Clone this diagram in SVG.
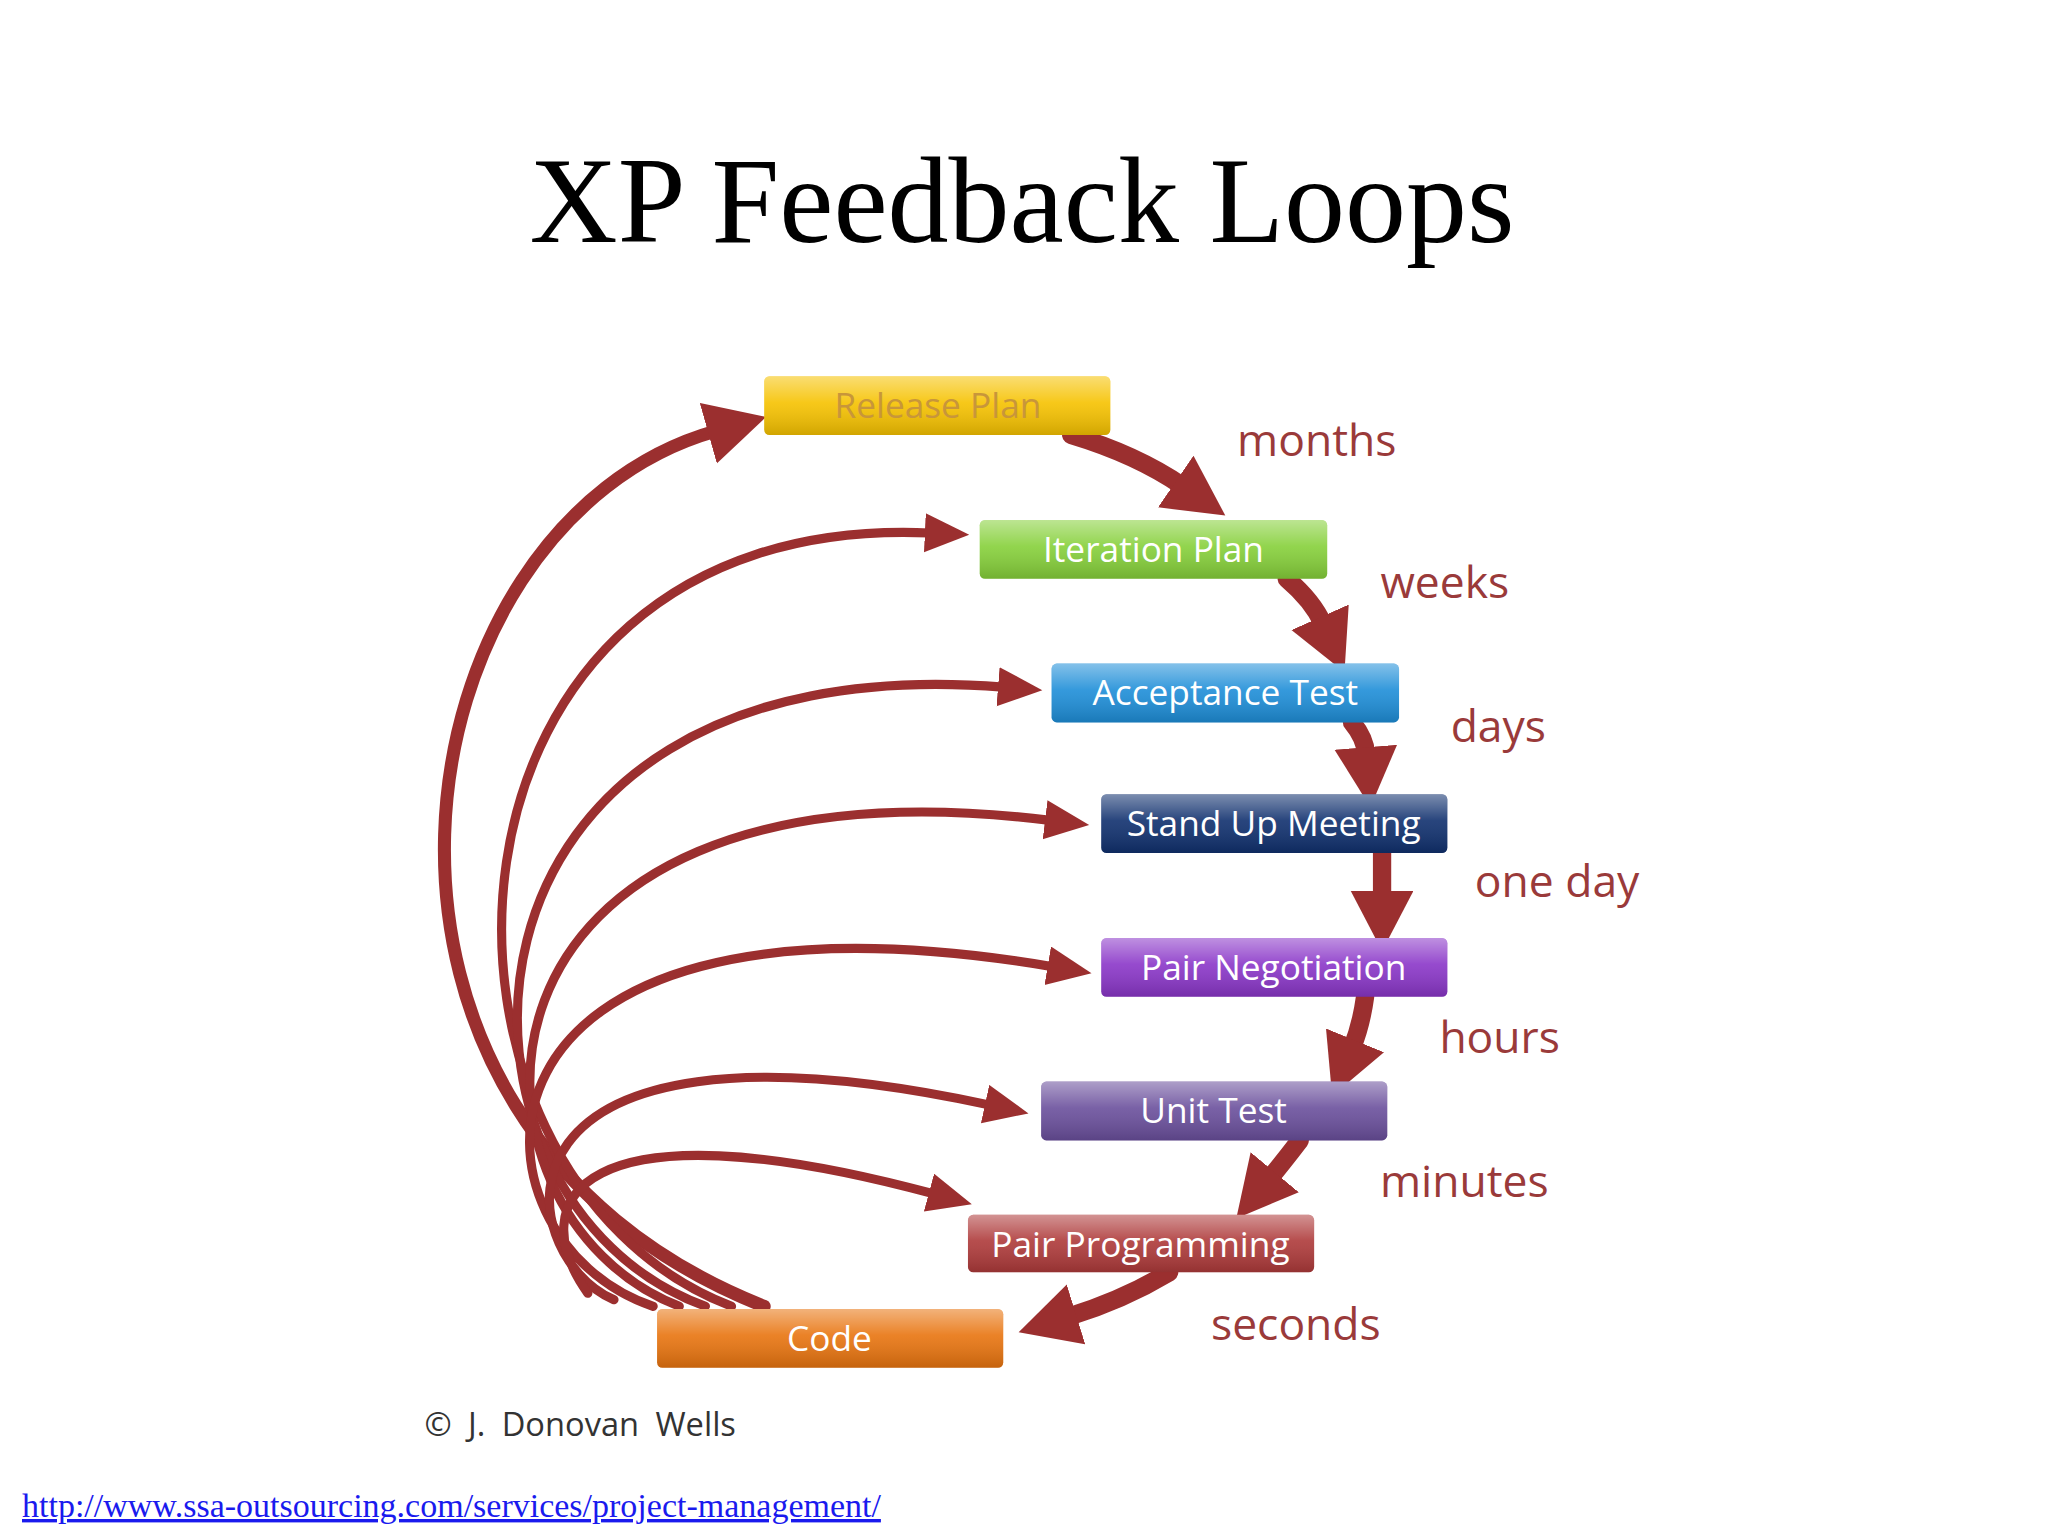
<svg xmlns="http://www.w3.org/2000/svg" width="2048" height="1536" viewBox="0 0 2048 1536">
<style>
.box{stroke:none}
.bt{font-family:"Open Sans","DejaVu Sans",sans-serif;font-size:27px;fill:#fff;text-anchor:middle}
.tl{font-family:"Open Sans","DejaVu Sans",sans-serif;font-size:34px;fill:#9a3a3a;text-anchor:middle}
.fb{fill:none;stroke:#9b2f2f;stroke-linecap:round}
</style>
<defs>
<marker id="ah" markerUnits="userSpaceOnUse" markerWidth="40" markerHeight="40" refX="4" refY="15" orient="auto"><path d="M0,0 L34,15 L0,30 Z" fill="#9b2f2f"/></marker>
<marker id="ahb" markerUnits="userSpaceOnUse" markerWidth="60" markerHeight="60" refX="6" refY="24" orient="auto"><path d="M0,0 L46,24 L0,48 Z" fill="#9b2f2f"/></marker>
<linearGradient id="gl" x1="0" y1="0" x2="0" y2="1"><stop offset="0" stop-color="#fff" stop-opacity="0.45"/><stop offset="0.45" stop-color="#fff" stop-opacity="0.1"/><stop offset="1" stop-color="#000" stop-opacity="0.15"/></linearGradient>
</defs>
<rect width="2048" height="1536" fill="#fff"/>
<text x="1022" y="242" font-family="Liberation Serif,serif" font-size="122" text-anchor="middle" fill="#000">XP Feedback Loops</text>
<g transform="scale(1.3063)">
<g id="connectors">
<path class="fb" stroke-width="10" marker-end="url(#ahb)" d="M585 1000 C230 860 300 400 548 330"/>
<path class="fb" stroke-width="7" marker-end="url(#ah)" d="M560 1000 C300 900 310 390 712 408"/>
<path class="fb" stroke-width="7" marker-end="url(#ah)" d="M540 1000 C320 920 320 490 768 526"/>
<path class="fb" stroke-width="7" marker-end="url(#ah)" d="M520 1000 C340 930 330 570 804 628"/>
<path class="fb" stroke-width="7" marker-end="url(#ah)" d="M500 1000 C350 950 330 660 806 740"/>
<path class="fb" stroke-width="7" marker-end="url(#ah)" d="M470 995 C390 960 360 760 758 846"/>
<path class="fb" stroke-width="7" marker-end="url(#ah)" d="M450 990 C400 920 440 840 715 914"/>
<path class="fb" stroke-width="14" marker-end="url(#ahb)" d="M820 333 Q870 348 905 372"/>
<path class="fb" stroke-width="14" marker-end="url(#ahb)" d="M985 443 Q1005 460 1013 478"/>
<path class="fb" stroke-width="14" marker-end="url(#ahb)" d="M1035 553 Q1045 565 1046 578"/>
<path class="fb" stroke-width="14" marker-end="url(#ahb)" d="M1058 653 L1058 688"/>
<path class="fb" stroke-width="14" marker-end="url(#ahb)" d="M1045 763 Q1042 785 1035 802"/>
<path class="fb" stroke-width="14" marker-end="url(#ahb)" d="M995 873 Q982 890 972 902"/>
<path class="fb" stroke-width="14" marker-end="url(#ahb)" d="M895 974 Q860 995 818 1008"/>
</g>
<g id="release"><rect class="box" x="585" y="288" width="265" height="45" rx="4" fill="#f6c200"/><rect x="585" y="288" width="265" height="45" rx="4" fill="url(#gl)"/><text class="bt" x="718" y="320" style="fill:#c8963a">Release Plan</text></g>
<g id="iteration"><rect class="box" x="750" y="398" width="266" height="45" rx="4" fill="#86d03a"/><rect x="750" y="398" width="266" height="45" rx="4" fill="url(#gl)"/><text class="bt" x="883" y="430">Iteration Plan</text></g>
<g id="acceptance"><rect class="box" x="805" y="508" width="266" height="45" rx="4" fill="#1e8ed8"/><rect x="805" y="508" width="266" height="45" rx="4" fill="url(#gl)"/><text class="bt" x="938" y="540">Acceptance Test</text></g>
<g id="standup"><rect class="box" x="843" y="608" width="265" height="45" rx="4" fill="#10306e"/><rect x="843" y="608" width="265" height="45" rx="4" fill="url(#gl)"/><text class="bt" x="975" y="640">Stand Up Meeting</text></g>
<g id="pairneg"><rect class="box" x="843" y="718" width="265" height="45" rx="4" fill="#8a36c8"/><rect x="843" y="718" width="265" height="45" rx="4" fill="url(#gl)"/><text class="bt" x="975" y="750">Pair Negotiation</text></g>
<g id="unittest"><rect class="box" x="797" y="828" width="265" height="45" rx="4" fill="#6a4f9c"/><rect x="797" y="828" width="265" height="45" rx="4" fill="url(#gl)"/><text class="bt" x="929" y="860">Unit Test</text></g>
<g id="pairprog"><rect class="box" x="741" y="930" width="265" height="44" rx="4" fill="#ae3a3a"/><rect x="741" y="930" width="265" height="44" rx="4" fill="url(#gl)"/><text class="bt" x="873" y="962">Pair Programming</text></g>
<g id="code"><rect class="box" x="503" y="1002" width="265" height="45" rx="4" fill="#e8740f"/><rect x="503" y="1002" width="265" height="45" rx="4" fill="url(#gl)"/><text class="bt" x="635" y="1034">Code</text></g>
<text class="tl" x="1008" y="349">months</text>
<text class="tl" x="1106" y="458">weeks</text>
<text class="tl" x="1147" y="568">days</text>
<text class="tl" x="1192" y="687">one day</text>
<text class="tl" x="1148" y="806">hours</text>
<text class="tl" x="1121" y="916">minutes</text>
<text class="tl" x="992" y="1026">seconds</text>
<text x="325" y="1099" font-family="Open Sans,DejaVu Sans,sans-serif" font-size="25" fill="#333" word-spacing="6">© J. Donovan Wells</text>
</g>
<text x="22" y="1517" font-family="Liberation Serif,serif" font-size="34" fill="#1a1aee" text-decoration="underline">http://www.ssa-outsourcing.com/services/project-management/</text>
</svg>
